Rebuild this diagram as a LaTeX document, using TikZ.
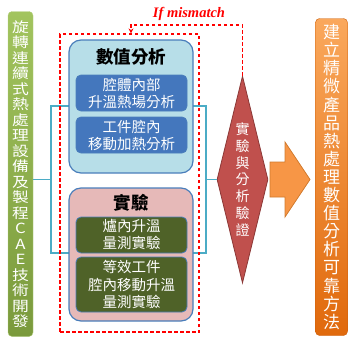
\documentclass[tikz,border=0pt]{standalone}
\usepackage{fontspec}
\setmainfont{Noto Sans CJK TC}
\newfontfamily\widecjk{Noto Sans CJK TC}[FakeStretch=1.2]
\newfontfamily\latinserif{Liberation Serif}
\usetikzlibrary{shapes.geometric,arrows.meta}
\definecolor{grnTop}{HTML}{A2C45E}
\definecolor{grnBot}{HTML}{7A9A3C}
\definecolor{bracket}{HTML}{4BACC6}
\definecolor{bordblue}{HTML}{4A7EBB}
\definecolor{lightblue}{HTML}{B7DEE8}
\definecolor{midblue}{HTML}{4477BD}
\definecolor{pinkfill}{HTML}{E6B9B8}
\definecolor{olive}{HTML}{4F6228}
\definecolor{diamred}{HTML}{C0504D}
\definecolor{diamedge}{HTML}{8C3836}
\definecolor{orgTop}{HTML}{FAA85C}
\definecolor{orgBot}{HTML}{E0690C}
\definecolor{arrorg}{HTML}{F79646}
\definecolor{arredge}{HTML}{D07A2E}
\begin{document}
\begin{tikzpicture}[x=1pt,y=-1pt,
  vbar/.style={rounded corners=4pt,inner sep=0pt,align=center,text=white},
  grp/.style={draw=bordblue,line width=1.2pt,rounded corners=12pt,minimum width=124pt,inner sep=0pt},
  inb/.style={draw=bordblue,line width=0.8pt,rounded corners=5pt,minimum width=111pt,inner sep=0pt,
    text=white,align=center,font=\fontsize{14.5}{17}\selectfont},
  ttl/.style={font=\fontsize{17.5}{20}\selectfont\bfseries,inner sep=0pt},
  reddash/.style={draw=red,line width=1.2pt,dash pattern=on 3.5pt off 2.5pt},
  brk/.style={draw=bracket,line width=1.3pt}
]
\useasboundingbox (0,0) rectangle (348,340);

% bracket frame behind
\node[brk,minimum width=155pt,minimum height=147pt,inner sep=0pt] (br) at (128.5,179.5) {};

% left green bar
\node[vbar,top color=grnTop,bottom color=grnBot,draw=grnTop!80!white,minimum width=25pt,minimum height=325pt,
  font=\widecjk\fontsize{14}{15.5}\selectfont] (L) at (20.5,174)
  {旋\\轉\\連\\續\\式\\熱\\處\\理\\設\\備\\及\\製\\程\\C\\A\\E\\技\\術\\開\\發};

% red dashed frame
\node[reddash,minimum width=139pt,minimum height=298pt,inner sep=0pt] (frame) at (129.5,183) {};

% analysis group
\node[grp,fill=lightblue,minimum height=133pt] (G1) at (131,106.5) {};
\node[ttl] (T1) at (131,57) {數值分析};
\node[inb,fill=midblue,minimum height=36pt] (A1) at (131.5,93) {腔體內部\\升溫熱場分析};
\node[inb,fill=midblue,minimum height=36pt] (A2) at (131.5,135) {工件腔內\\移動加熱分析};

% experiment group
\node[grp,fill=pinkfill,minimum height=133pt] (G2) at (131,254.5) {};
\node[ttl] (T2) at (131,203) {實驗};
\node[inb,fill=olive,minimum height=36pt] (E1) at (131.5,235) {爐內升溫\\量測實驗};
\node[inb,fill=olive,minimum height=55pt,font=\fontsize{14.5}{17.5}\selectfont] (E2) at (131.5,284.5) {等效工件\\腔內移動升溫\\量測實驗};

% diamond
\node[diamond,draw=diamedge,fill=diamred,line width=0.8pt,shape aspect=0.246,minimum width=51pt,minimum height=207pt,
  inner sep=0pt,text=white,align=center,font=\fontsize{14}{16.7}\selectfont] (D) at (242.5,179.5)
  {實\\驗\\與\\分\\析\\驗\\證};

% bracket connectors
\draw[brk] (L.east |- br.west) -- (br.west);
\draw[brk] (br.east) -- (D.west);

% feedback
\coordinate (fb) at (131,25);
\draw[reddash,-{Stealth[length=5pt,width=5pt]}] (D.north) |- (fb) -- (fb |- frame.north);
\node[text=red,font=\latinserif\fontsize{14.5}{16}\selectfont\bfseries\itshape,inner sep=0pt] (mm) at (189,14) {If mismatch};

% orange arrow
\draw[draw=arredge,fill=arrorg,line width=0.8pt] (270,162) -- (285,162) -- (285,142) -- (310,179.5) -- (285,217) -- (285,197) -- (270,197) -- cycle;

% right orange bar
\node[vbar,top color=orgTop,bottom color=orgBot,draw=orgBot!90!black,minimum width=32pt,minimum height=317pt,
  font=\fontsize{17}{18.1}\selectfont] (R) at (331.5,177)
  {建\\立\\精\\微\\產\\品\\熱\\處\\理\\數\\值\\分\\析\\可\\靠\\方\\法};
\end{tikzpicture}
\end{document}
